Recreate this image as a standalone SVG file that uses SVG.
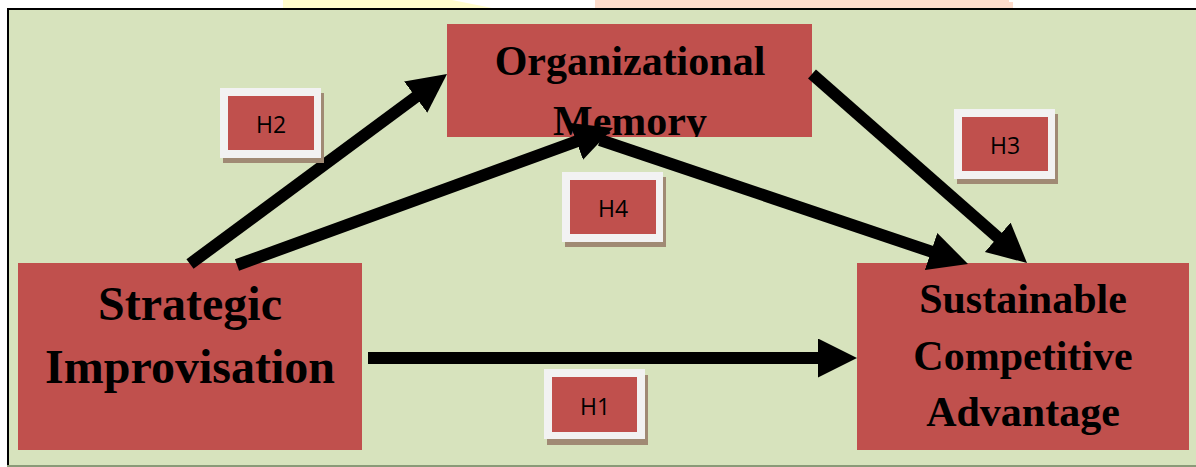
<svg xmlns="http://www.w3.org/2000/svg" width="1196" height="467" viewBox="0 0 1196 467">
<style>
.box{fill:#c0504d;}
.big{font-family:"Liberation Serif","Times New Roman",serif;font-weight:bold;fill:#000;text-anchor:middle;}
.hl{font-family:"Open Sans","Liberation Sans",sans-serif;font-size:23px;fill:#000;text-anchor:middle;}
.frame{fill:#f2f2f2;}
.shadow{fill:#a08a74;}
.conn{stroke:#000;stroke-width:12;fill:none;marker-end:url(#ah);}
</style>
<defs>
<marker id="ah" markerUnits="userSpaceOnUse" markerWidth="40" markerHeight="40" viewBox="0 0 40 40" refX="9" refY="19.5" orient="auto">
<path d="M0,0 L39,19.5 L0,39 z" fill="#000"/>
</marker>
<clipPath id="omclip"><rect x="447" y="24" width="365" height="113"/></clipPath>
</defs>
<rect x="0" y="0" width="1196" height="467" fill="#ffffff"/>
<polygon points="283,0 452,0 492,8 283,8" fill="#fffccc"/>
<polygon points="595,0 1009,0 1009,2 1013,2 1013,8 595,8" fill="#fddccc"/>
<rect x="7" y="8" width="1189" height="459" fill="#d7e3bd"/>
<rect x="7" y="8" width="1189" height="2" fill="#000"/>
<rect x="7" y="8" width="2" height="459" fill="#000"/>
<rect x="7" y="465" width="1189" height="2" fill="#8a9a78"/>

<g id="node-om">
<rect class="box" x="447" y="24" width="365" height="113"/>
<g clip-path="url(#omclip)">
<text class="big" x="630" y="75" font-size="42">Organizational</text>
<text class="big" x="630" y="135" font-size="42">Memory</text>
</g>
</g>
<g id="node-si">
<rect class="box" x="18" y="263" width="344" height="187"/>
<text class="big" x="190" y="320" font-size="48">Strategic</text>
<text class="big" x="190" y="383" font-size="48">Improvisation</text>
</g>
<g id="node-sca">
<rect class="box" x="857" y="263" width="332" height="187"/>
<text class="big" x="1023" y="313" font-size="42">Sustainable</text>
<text class="big" x="1023" y="370" font-size="42">Competitive</text>
<text class="big" x="1023" y="426" font-size="42">Advantage</text>
</g>

<g id="connectors">
<line class="conn" x1="368" y1="358" x2="827" y2="358"/>
<line class="conn" x1="190" y1="264" x2="422.9" y2="91.8"/>
<line class="conn" x1="237" y1="265" x2="584.8" y2="138.3"/>
<line class="conn" x1="600" y1="140" x2="939.6" y2="254.4"/>
<line class="conn" x1="812" y1="74" x2="1004.5" y2="243.2"/>
</g>

<g id="label-h2">
<rect class="shadow" x="223" y="93" width="101" height="70"/>
<rect class="frame" x="220" y="88" width="101" height="70"/>
<rect class="box" x="228" y="96" width="86" height="54"/>
<text class="hl" x="271" y="133">H2</text>
</g>
<g id="label-h3">
<rect class="shadow" x="957" y="114" width="101" height="70"/>
<rect class="frame" x="954" y="109" width="101" height="70"/>
<rect class="box" x="962" y="117" width="86" height="54"/>
<text class="hl" x="1005" y="154">H3</text>
</g>
<g id="label-h4">
<rect class="shadow" x="565" y="177" width="101" height="70"/>
<rect class="frame" x="562" y="172" width="101" height="70"/>
<rect class="box" x="570" y="180" width="86" height="54"/>
<text class="hl" x="613" y="217">H4</text>
</g>
<g id="label-h1">
<rect class="shadow" x="547" y="375" width="101" height="70"/>
<rect class="frame" x="544" y="369" width="101" height="70"/>
<rect class="box" x="552" y="377" width="85" height="55"/>
<text class="hl" x="595" y="415">H1</text>
</g>
</svg>
